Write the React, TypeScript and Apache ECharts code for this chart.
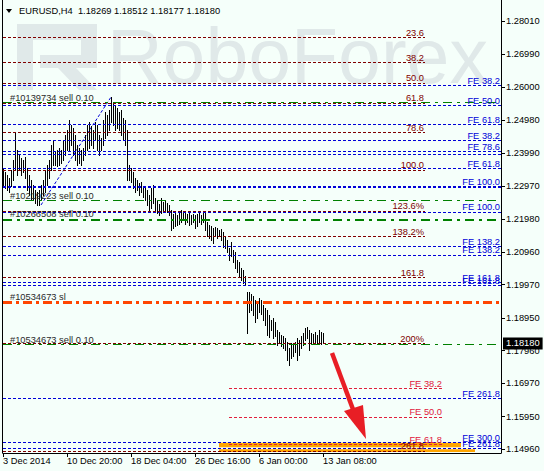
import React, { useEffect, useRef } from 'react';
import * as echarts from 'echarts';

const FONT = '"Liberation Sans", Arial, sans-serif';
const FS = 9.3;
const BG = '#F5FFFA';
const MAROON = '#800000';
const BLUE = '#0000D8';
const CRIMSON = '#E0203C';
const GREEN = '#008000';
const ORANGERED = '#FF4500';

// ---- axes ----
const SLOT_COUNT = 250;
const TICK_EVERY = 32;
const xTickLabels = ['3 Dec 2014', '10 Dec 20:00', '18 Dec 04:00', '26 Dec 16:00', '6 Jan 00:00', '13 Jan 08:00'];
const yTicks = [1.2801, 1.2699, 1.26, 1.2498, 1.2399, 1.2297, 1.2198, 1.2096, 1.1997, 1.1895, 1.1796, 1.1697, 1.1595, 1.1496];
const Y_MIN = 1.14838;
const Y_MAX = 1.2865;

// ---- H4 bars (high / low) ----
const highs = [
  1.2353, 1.2341, 1.2331, 1.2322, 1.2347, 1.2377, 1.2459, 1.2408, 1.2392, 1.2383,
  1.2377, 1.2386, 1.2353, 1.2331, 1.2316, 1.2301, 1.2286, 1.228, 1.2286, 1.2301,
  1.2316, 1.2347, 1.2362, 1.2377, 1.2423, 1.2438, 1.2401, 1.2408, 1.2414, 1.2408,
  1.2438, 1.2453, 1.2469, 1.2499, 1.2484, 1.2475, 1.2453, 1.2423, 1.2414, 1.2408,
  1.2414, 1.2453, 1.2484, 1.2493, 1.2481, 1.2469, 1.2493, 1.2484, 1.2453, 1.2444,
  1.2499, 1.2524, 1.2514, 1.253, 1.2569, 1.2551, 1.2545, 1.2536, 1.2524, 1.253,
  1.2505, 1.2499, 1.2469, 1.2362, 1.2353, 1.2341, 1.2322, 1.2316, 1.2307, 1.231,
  1.2298, 1.2292, 1.2286, 1.2271, 1.2292, 1.2301, 1.2261, 1.2255, 1.2243, 1.2261,
  1.2249, 1.2255, 1.2246, 1.224, 1.2225, 1.2213, 1.2219, 1.221, 1.2216, 1.2225,
  1.2219, 1.2219, 1.2213, 1.2219, 1.221, 1.2213, 1.221, 1.2213, 1.2216, 1.221,
  1.2219, 1.2216, 1.2188, 1.2179, 1.2176, 1.217, 1.2173, 1.217, 1.2164, 1.2167,
  1.2158, 1.2145, 1.2133, 1.2109, 1.2127, 1.2103, 1.2097, 1.2072, 1.2066, 1.2048,
  1.2042, 1.2024, 1.1975, 1.1975, 1.1969, 1.1963, 1.195, 1.1944, 1.1957, 1.195,
  1.1935, 1.1926, 1.192, 1.1905, 1.1889, 1.1895, 1.1883, 1.1859, 1.1853, 1.1844,
  1.1841, 1.1835, 1.1822, 1.1804, 1.1819, 1.1813, 1.1822, 1.1835, 1.1828, 1.1841,
  1.185, 1.1865, 1.1868, 1.1859, 1.185, 1.1847, 1.1853, 1.1844, 1.1859, 1.1853,
  1.18512,
];
const lows = [
  1.2301, 1.2292, 1.2286, 1.228, 1.2298, 1.2316, 1.2347, 1.2331, 1.2347, 1.2331,
  1.2341, 1.2322, 1.2286, 1.2271, 1.2255, 1.2255, 1.2246, 1.224, 1.224, 1.2255,
  1.2271, 1.228, 1.2301, 1.2322, 1.2347, 1.2362, 1.2362, 1.2359, 1.2362, 1.2368,
  1.2377, 1.2392, 1.2408, 1.2408, 1.2423, 1.2392, 1.2377, 1.2362, 1.2368, 1.2362,
  1.2377, 1.2392, 1.2408, 1.2414, 1.2423, 1.2414, 1.2438, 1.2408, 1.2392, 1.2408,
  1.2423, 1.2444, 1.2453, 1.2469, 1.2493, 1.2484, 1.2469, 1.2475, 1.2469, 1.2453,
  1.2438, 1.2423, 1.2316, 1.2316, 1.231, 1.2292, 1.228, 1.2286, 1.2271, 1.228,
  1.2265, 1.2255, 1.224, 1.2225, 1.2231, 1.2246, 1.2219, 1.2216, 1.221, 1.2216,
  1.2219, 1.2225, 1.2219, 1.221, 1.2164, 1.217, 1.2176, 1.2179, 1.2182, 1.2188,
  1.2194, 1.2182, 1.2188, 1.2179, 1.2182, 1.2188, 1.217, 1.2176, 1.2188, 1.2182,
  1.2188, 1.2164, 1.2145, 1.2139, 1.2133, 1.2124, 1.2148, 1.2139, 1.2145, 1.2133,
  1.2112, 1.2109, 1.2097, 1.2072, 1.2085, 1.2066, 1.2048, 1.2036, 1.2024, 1.2011,
  1.2002, 1.1996, 1.185, 1.1914, 1.192, 1.1905, 1.1883, 1.1895, 1.1914, 1.1908,
  1.1889, 1.1874, 1.1844, 1.1838, 1.1859, 1.1835, 1.1841, 1.1813, 1.1822, 1.181,
  1.1804, 1.1798, 1.1767, 1.1752, 1.1774, 1.178, 1.1792, 1.1767, 1.1783, 1.1804,
  1.1813, 1.1828, 1.1835, 1.1798, 1.1816, 1.1819, 1.1816, 1.1819, 1.1822, 1.1816,
  1.18177,
];

// ---- Fibonacci retracement (maroon) ----
const fibLabels = ['23.6', '38.2', '50.0', '61.8', '78.6', '100.0', '123.6%', '138.2%', '161.8', '200%', '261.8'];
const fibPrices = [1.2751, 1.2675, 1.2612, 1.2551, 1.2462, 1.2347, 1.2222, 1.2144, 1.2019, 1.1817, 1.149];
const fibSpan = [0, 211];

// ---- Fibonacci expansions (blue, full width) ----
const feBlueLabels = ['FE 38.2', 'FE 50.0', 'FE 61.8', 'FE 38.2', 'FE 78.6', '', 'FE 61.8', 'FE 100.0', 'FE 100.0', 'FE 138.2', 'FE 138.2', 'FE 161.8', 'FE 161.8', 'FE 261.8', 'FE 300.0', 'FE 261.8'];
const feBluePrices = [1.2605, 1.2544, 1.2486, 1.2436, 1.2403, 1.2395, 1.2352, 1.2296, 1.2219, 1.2113, 1.2088, 1.2003, 1.1994, 1.1651, 1.1517, 1.1498];

// ---- Fibonacci expansion (crimson, partial) ----
const feRedLabels = ['FE 38.2', 'FE 50.0', 'FE 61.8'];
const feRedPrices = [1.1681, 1.1594, 1.151];
const feRedSpan = [113, 220];

// ---- orders ----
const orderLabels = ['#10139734 sell 0.10', '#10219223 sell 0.10', '#10266508 sell 0.10', '', '#10534673 sell 0.10'];
const orderPrices = [1.2553, 1.2255, 1.2198, 1.2193, 1.1815];
const stopLabel = '#10534673 sl';
const stopPrice = 1.1943;
const lastPrice = 1.1818;

// ---- highlighted zones [fromIndex, fromPrice, toIndex, toPrice] ----
const orangeZones = [
  [108, 1.1515, 229, 1.1501],
  [108, 1.1495, 236, 1.1487],
];

// ---- expansion trend line ----
const trendLine = [[19, 1.224], [54, 1.2569]];

const titleText = 'EURUSD,H4  1.18269 1.18512 1.18177 1.18180';

const categories = Array.from({ length: SLOT_COUNT }, (_, i) => String(i));
const isTick = (i: number) => i % TICK_EVERY === 0 && i / TICK_EVERY < xTickLabels.length;

const font = { fontSize: FS, fontFamily: FONT };

function buildMarkLines() {
  const items: any[] = [];
  fibPrices.forEach((p, k) => {
    items.push([
      {
        coord: [fibSpan[0], p],
        lineStyle: { color: MAROON, type: [3, 2], width: 1 },
        label: { show: true, position: 'insideEndTop', formatter: fibLabels[k], color: MAROON, distance: [1, 0], ...font },
      },
      { coord: [fibSpan[1], p] },
    ]);
  });
  feBluePrices.forEach((p, k) => {
    items.push({
      yAxis: p,
      lineStyle: { color: BLUE, type: [3, 2], width: k === 7 ? 2 : 1 },
      label: { show: !!feBlueLabels[k], position: 'insideEndTop', formatter: feBlueLabels[k] || ' ', color: BLUE, distance: [1, 0], ...font },
    });
  });
  feRedPrices.forEach((p, k) => {
    items.push([
      {
        coord: [feRedSpan[0], p],
        lineStyle: { color: CRIMSON, type: [3, 2], width: 1 },
        label: { show: true, position: 'insideEndTop', formatter: feRedLabels[k], color: CRIMSON, distance: [1, 0], ...font },
      },
      { coord: [feRedSpan[1], p] },
    ]);
  });
  orderPrices.forEach((p, k) => {
    items.push({
      yAxis: p,
      lineStyle: { color: GREEN, type: [9, 5, 3, 5], width: 1.1 },
      label: { show: !!orderLabels[k], position: 'insideStartTop', formatter: orderLabels[k] || ' ', color: '#2a2a2a', distance: [7, 0], ...font },
    });
  });
  items.push({
    yAxis: stopPrice,
    lineStyle: { color: ORANGERED, type: [9, 4, 3, 4], width: 3 },
    label: { show: true, position: 'insideStartTop', formatter: stopLabel, color: '#2a2a2a', distance: [7, 1], ...font },
  });
  items.push({
    yAxis: lastPrice,
    lineStyle: { color: 'rgba(0,0,0,0)', width: 1 },
    label: {
      show: true, position: 'end', formatter: lastPrice.toFixed(5), color: '#fff',
      backgroundColor: '#000', padding: [2, 3, 1, 3], distance: [2, 0], ...font,
    },
  });
  return items;
}

const WM = '#E0E9E9';

const option: any = {
  animation: false,
  backgroundColor: BG,
  grid: { left: 3, right: 43, top: 0, bottom: 18 },
  xAxis: {
    type: 'category',
    data: categories,
    boundaryGap: false,
    axisLine: { lineStyle: { color: '#000', width: 1 } },
    axisTick: { interval: (i: number) => isTick(i), length: 4, lineStyle: { color: '#000' } },
    axisLabel: {
      interval: (i: number) => isTick(i),
      formatter: (_v: string, i: number) => (isTick(i) ? xTickLabels[i / TICK_EVERY] : ''),
      align: 'left', margin: 3, color: '#000', ...font,
    },
    splitLine: { show: false },
  },
  yAxis: [
    {
      type: 'value', position: 'right', min: Y_MIN, max: Y_MAX,
      axisLine: { show: true, lineStyle: { color: '#000' } },
      axisTick: { show: true, length: 4, customValues: yTicks, lineStyle: { color: '#000' } },
      axisLabel: { customValues: yTicks, formatter: (v: number) => v.toFixed(5), margin: 5, color: '#000', ...font },
      splitLine: { show: false },
    },
    {
      type: 'value', position: 'left', min: Y_MIN, max: Y_MAX, offset: 1,
      axisLine: { show: true, lineStyle: { color: '#000' } },
      axisTick: { show: false }, axisLabel: { show: false }, splitLine: { show: false },
    },
  ],
  graphic: [
    // watermark logo
    { type: 'rect', z: 0, silent: true, shape: { x: 17, y: 24, width: 80, height: 16 }, style: { fill: WM } },
    { type: 'rect', z: 0, silent: true, shape: { x: 17, y: 24, width: 16, height: 66 }, style: { fill: WM } },
    { type: 'rect', z: 0, silent: true, shape: { x: 81, y: 24, width: 16, height: 36 }, style: { fill: WM } },
    { type: 'rect', z: 0, silent: true, shape: { x: 40, y: 55, width: 57, height: 13 }, style: { fill: WM } },
    { type: 'polygon', z: 0, silent: true, shape: { points: [[58, 68], [76, 68], [97, 90], [79, 90]] }, style: { fill: WM } },
    {
      type: 'text', z: 0, silent: true, x: 107, y: 56,
      style: { text: 'RoboForex', fill: WM, fontSize: 77, fontFamily: FONT, verticalAlign: 'middle' },
    },
    // title
    { type: 'polygon', z: 50, shape: { points: [[6, 9], [12, 9], [9, 13]] }, style: { fill: '#000' } },
    {
      type: 'text', z: 50, x: 19, y: 11,
      style: { text: titleText, fill: '#000', fontSize: FS, fontFamily: FONT, verticalAlign: 'middle' },
    },
    // arrow
    { type: 'line', z: 100, shape: { x1: 332, y1: 353, x2: 354, y2: 412 }, style: { stroke: '#E81E25', lineWidth: 4.5 } },
    { type: 'polygon', z: 100, shape: { points: [[344, 411], [363, 405], [366, 439]] }, style: { fill: '#E81E25' } },
  ],
  series: [
    {
      type: 'line', data: [], z: 1, silent: true, clip: false,
      markArea: {
        silent: true,
        itemStyle: { color: '#FFA500' },
        data: orangeZones.map((z) => [{ coord: [z[0], z[1]] }, { coord: [z[2], z[3]] }]),
      },
    },
    {
      type: 'line', data: [], z: 3, silent: true, clip: false,
      markLine: { silent: true, precision: 5, symbol: ['none', 'none'], animation: false, data: buildMarkLines() },
    },
    {
      type: 'line', data: trendLine, z: 3, silent: true, symbol: 'none',
      lineStyle: { color: BLUE, type: [3, 2], width: 1 },
    },
    {
      type: 'custom', z: 4, silent: true,
      data: highs.map((h, i) => [i, lows[i], h]),
      encode: { x: 0, y: [1, 2] },
      renderItem: (_p: any, api: any) => {
        const i = api.value(0);
        const lo = api.coord([i, api.value(1)]);
        const hi = api.coord([i, api.value(2)]);
        const x = Math.round(lo[0]) + 0.5;
        return {
          type: 'line',
          shape: { x1: x, y1: Math.round(hi[1]), x2: x, y2: Math.round(lo[1]) + 1 },
          style: { stroke: '#000', lineWidth: 1 },
        };
      },
    },
  ],
};

export default function App() {
  const ref = useRef<HTMLDivElement>(null);
  useEffect(() => {
    const chart = echarts.init(ref.current!, null, { renderer: 'svg' });
    chart.setOption(option);
    return () => chart.dispose();
  }, []);
  return <div ref={ref} style={{ position: 'fixed', left: 0, top: 0, width: 544, height: 471 }} />;
}
